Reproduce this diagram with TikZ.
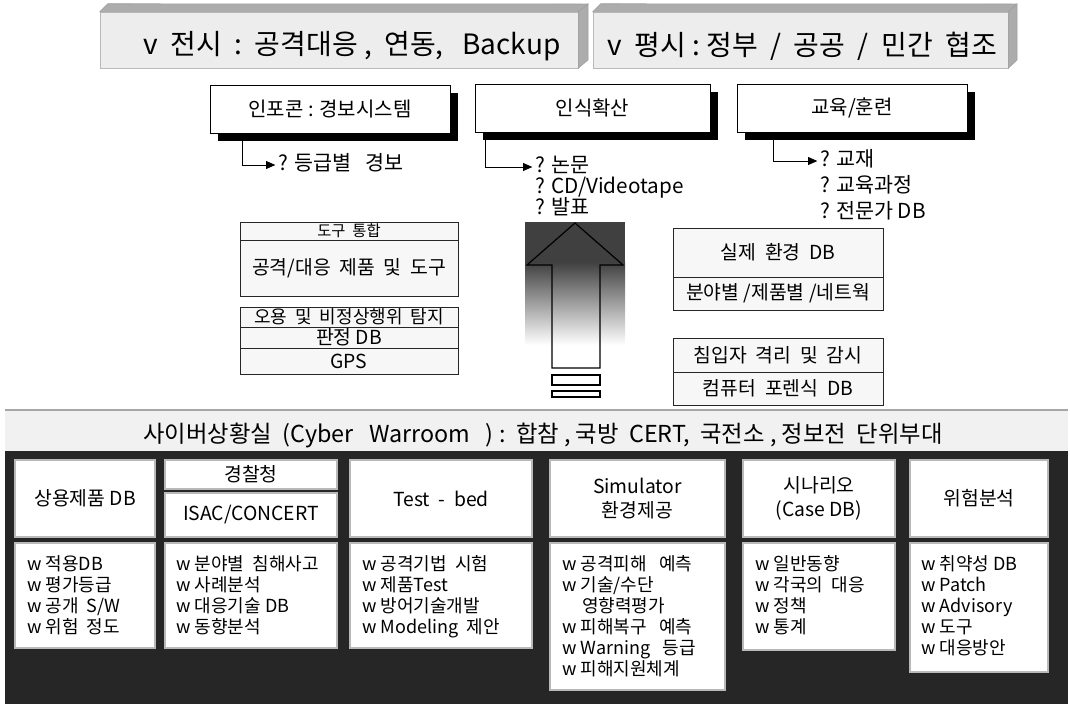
\documentclass[tikz,border=0pt]{standalone}
\usepackage{fontspec}
\setmainfont{Noto Sans CJK KR}
\usetikzlibrary{arrows.meta}
\newcommand\boxat[7]{\node[#1,minimum width={(#5-#3)*0.75pt},minimum height={(#6-#4)*0.75pt},inner sep=0pt] (#2) at ({(#3+#5)/2},{(#4+#6)/2}) {#7};}
\begin{document}
\begin{tikzpicture}[x=0.75pt,y=-0.75pt,
  front/.style={draw=gray!55,fill=gray!14},
  bevel/.style={draw=gray!75,fill=gray!65},
  sbox/.style={draw=black,fill=white,line width=0.6pt,font=\fontsize{15}{18}\selectfont},
  note/.style={anchor=west,inner sep=0pt,text height=10.5pt,text depth=2.5pt,font=\fontsize{15.5}{18}\selectfont},
  cell/.style={draw=black!85,fill=gray!6,line width=0.6pt,font=\fontsize{14.5}{16}\selectfont},
  hdr/.style={draw=gray!55,fill=white,line width=1.6pt,font=\fontsize{14.5}{18}\selectfont,align=center},
  lbox/.style={draw=gray!55,fill=white,line width=1.6pt},
  lst/.style={anchor=north west,inner sep=0pt,align=left,font=\fontsize{13.5}{15.75}\selectfont},
  conn/.style={-{Triangle[length=7pt,width=6pt]},line width=0.6pt,shorten >=2pt}]
\useasboundingbox (0,0) rectangle (1070,704);
\fill[white] (0,0) rectangle (1070,704);
% ---- banners
\boxat{front}{ban1}{100}{12}{578}{68}{}
\fill[bevel] (ban1.north west) -- ++(8,-8) -- (588,4) -- (ban1.north east) -- cycle;
\fill[bevel] (ban1.north east) -- (588,4) -- (588,60) -- (ban1.south east) -- cycle;
\node[anchor=west,inner sep=0pt,font=\fontsize{21}{24}\selectfont] (bt1) at (143,46) {v\ \ 전시\ \ :\ \ 공격대응\ ,\ \ 연동,\ \ \ Backup};
\boxat{front}{ban2}{593}{12}{1008}{68}{}
\fill[bevel] (ban2.north west) -- ++(8,-8) -- (1017,4) -- (ban2.north east) -- cycle;
\fill[bevel] (ban2.north east) -- (1017,4) -- (1017,60) -- (ban2.south east) -- cycle;
\node[anchor=west,inner sep=0pt,font=\fontsize{21}{24}\selectfont] (bt2) at (607,46) {v\ \ 평시\ :\ 정부\ \ /\ \ 공공\ \ /\ \ 민간\ \ 협조};
% ---- shadowed boxes
\fill[black] (218,93) rectangle (458,141);
\boxat{sbox}{b1}{210}{85}{450}{133}{인포콘 : 경보시스템}
\fill[black] (483,92) rectangle (718,140);
\boxat{sbox}{b2}{475}{84}{710}{132}{인식확산}
\fill[black] (745,92) rectangle (975,140);
\boxat{sbox}{b3}{737}{84}{967}{132}{교육/훈련}
\coordinate (s1) at (242,141);
\coordinate (s2) at (485,140);
\coordinate (s3) at (773,140);
\node[note] (t1) at (278,165) {? 등급별\ \ \ 경보};
\node[note] (t2a) at (535,167) {? 논문};
\node[note] (t2b) at (535,188) {? CD/Videotape};
\node[note] (t2c) at (535,209) {? 발표};
\node[note] (t3a) at (820,161) {? 교재};
\node[note] (t3b) at (820,187) {? 교육과정};
\node[note] (t3c) at (820,213) {? 전문가 DB};
\draw[conn] (s1) |- (t1.west);
\draw[conn] (s2) |- (t2a.west);
\draw[conn] (s3) |- (t3a.west);
% ---- middle left groups
\boxat{cell,font=\fontsize{11.5}{13}\selectfont}{gA1}{240}{222}{458}{240}{도구\ \ 통합}
\boxat{cell}{gA2}{240}{240}{458}{296}{공격/대응\ \ 제품\ \ 및\ \ 도구}
\boxat{cell,font=\fontsize{13.5}{14}\selectfont}{gB1}{240}{307}{458}{327}{오용\ \ 및\ \ 비정상행위\ \ 탐지}
\boxat{cell}{gB2}{240}{327}{458}{348}{판정\ DB}
\boxat{cell}{gB3}{240}{348}{458}{374}{GPS}
% ---- middle right groups
\boxat{cell}{gC1}{673}{228}{883}{277}{실제\ \ 환경\ \ DB}
\boxat{cell}{gC2}{673}{277}{883}{310}{분야별 /제품별 /네트웍}
\boxat{cell}{gD1}{673}{338}{883}{372}{침입자\ \ 격리\ \ 및\ \ 감시}
\boxat{cell}{gD2}{673}{372}{883}{405}{컴퓨터\ \ 포렌식\ \ DB}
% ---- big arrow
\fill[black!75] (525,222) rectangle (625,262);
\shade[top color=black!75,bottom color=white] (525,262) rectangle (625,345);
\draw[line width=0.9pt] (575,223) -- (527,265) -- (552,265) -- (552,368) -- (600,368) -- (600,265) -- (623,265) -- cycle;
\draw[line width=0.9pt,fill=white] (552,375) rectangle (600,385);
\draw[line width=0.9pt,fill=white] (552,391) rectangle (600,397);
% ---- bottom section
\fill[gray!11] (5,410) rectangle (1068,704);
\draw[gray!70,line width=0.8pt] (5,410) -- (1068,410);
\node[inner sep=0pt,font=\fontsize{17.5}{20}\selectfont] (band) at (543,435) {사이버상황실\ \ (Cyber\ \ \ Warroom\ \ \ ) :\ \ 합참 ,\ 국방\ \ CERT,\ \ 국전소 ,\ 정보전\ \ 단위부대};
\fill[black!85] (5,451) rectangle (1068,704);
% headers
\boxat{hdr}{h1}{15}{460}{155}{537}{상용제품 DB}
\boxat{hdr}{h2a}{165}{460}{337}{489}{경찰청}
\boxat{hdr}{h2b}{165}{493}{337}{537}{ISAC/CONCERT}
\boxat{hdr}{h3}{350}{460}{532}{537}{Test\ \ -\ \ bed}
\boxat{hdr}{h4}{550}{460}{725}{537}{Simulator\\환경제공}
\boxat{hdr}{h5}{743}{460}{895}{537}{시나리오\\(Case DB)}
\boxat{hdr}{h6}{910}{460}{1048}{537}{위험분석}
% lists
\boxat{lbox}{l1}{15}{543}{155}{648}{}
\boxat{lbox}{l2}{165}{543}{337}{648}{}
\boxat{lbox}{l3}{350}{543}{532}{648}{}
\boxat{lbox}{l4}{550}{543}{725}{690}{}
\boxat{lbox}{l5}{743}{543}{895}{650}{}
\boxat{lbox}{l6}{910}{543}{1048}{672}{}
\node[lst] (x1) at (27,555) {w 적용DB\\w 평가등급\\w 공개\ \ S/W\\w 위험\ \ 정도};
\node[lst] (x2) at (176,555) {w 분야별\ \ 침해사고\\w 사례분석\\w 대응기술 DB\\w 동향분석};
\node[lst] (x3) at (362,555) {w 공격기법\ \ 시험\\w 제품Test\\w 방어기술개발\\w Modeling\ \ 제안};
\node[lst] (x4) at (562,555) {w 공격피해\ \ \ 예측\\w 기술/수단\\\hspace*{1.1em}영향력평가\\w 피해복구\ \ \ 예측\\w Warning\ \ \ 등급\\w 피해지원체계};
\node[lst] (x5) at (755,555) {w 일반동향\\w 각국의\ \ 대응\\w 정책\\w 통계};
\node[lst] (x6) at (921,555) {w 취약성 DB\\w Patch\\w Advisory\\w 도구\\w 대응방안};
\end{tikzpicture}
\end{document}
